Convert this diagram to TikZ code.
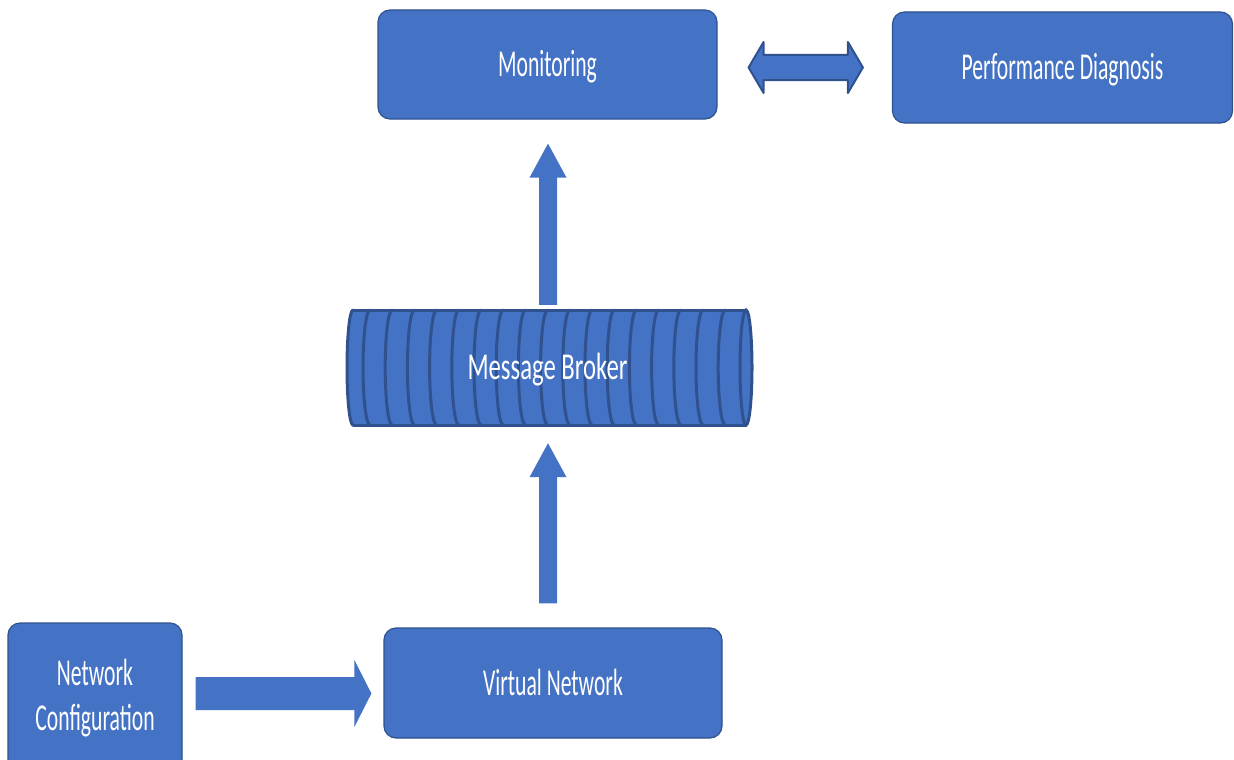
\documentclass[tikz,border=0pt]{standalone}
\usepackage{fontspec}
\newfontfamily\labelfont[FakeStretch=0.57]{Carlito}
\newfontfamily\pipefont[FakeStretch=0.65]{Carlito}
\usetikzlibrary{calc}
\definecolor{boxblue}{HTML}{4472C4}
\definecolor{edgeblue}{HTML}{2F528F}

% vertical block arrow: base centre #1, tip #2
\newcommand\vblockarrow[2]{%
  \fill[boxblue] let \p1=(#1), \p2=(#2) in
    (\x1-9pt,\y1) -- (\x1-9pt,\y2-34pt) -- (\x1-18.5pt,\y2-34pt) -- (\x1,\y2)
    -- (\x1+18.5pt,\y2-34pt) -- (\x1+9pt,\y2-34pt) -- (\x1+9pt,\y1) -- cycle;}
% horizontal block arrow: base centre #1, tip #2
\newcommand\hblockarrow[2]{%
  \fill[boxblue] let \p1=(#1), \p2=(#2) in
    (\x1,\y1+16.5pt) -- (\x2-17pt,\y1+16.5pt) -- (\x2-17pt,\y1+33.5pt) -- (\x2,\y1)
    -- (\x2-17pt,\y1-33.5pt) -- (\x2-17pt,\y1-16.5pt) -- (\x1,\y1-16.5pt) -- cycle;}
% two-headed block arrow between tips #1 and #2
\newcommand\dblockarrow[2]{%
  \filldraw[fill=boxblue, draw=edgeblue, line width=2pt, line join=round]
    let \p1=(#1), \p2=(#2) in
    (\x1,\y1) -- (\x1+15pt,\y1+25.5pt) -- (\x1+15pt,\y1+12.5pt) -- (\x2-15pt,\y1+12.5pt)
    -- (\x2-15pt,\y1+25.5pt) -- (\x2,\y1) -- (\x2-15pt,\y1-25.5pt) -- (\x2-15pt,\y1-12.5pt)
    -- (\x1+15pt,\y1-12.5pt) -- (\x1+15pt,\y1-25.5pt) -- cycle;}

\tikzset{
  labeltext/.style={text=white, font=\labelfont\fontsize{38}{45}\selectfont, inner sep=0pt},
  stage/.style={labeltext, draw=edgeblue, line width=1.2pt, fill=boxblue, rounded corners=12pt},
  oneline/.style={text height=24.5pt, text depth=0pt},
  pipe/.style={draw=edgeblue, line width=3pt, line cap=round},
}

\begin{document}
\begin{tikzpicture}[x=1pt, y=1pt]
\useasboundingbox (0,0) rectangle (1234,-760);
\clip (0,0) rectangle (1234,-760);

% boxes
\node[stage, oneline, minimum width=339pt, minimum height=109pt] (mon) at (547.5,-64.5) {Monitoring};
\node[stage, oneline, minimum width=340pt, minimum height=111pt] (perf) at (1062.5,-67.5) {Performance Diagnosis};
\node[stage, oneline, minimum width=338pt, minimum height=110pt] (vn) at (553,-683) {Virtual Network};
\node[stage, align=center, minimum width=174pt, minimum height=150pt] (nc) at (95,-698) {Network\\Configuration};

% message broker drawn as a striped horizontal cylinder
\fill[boxblue] (353,-310) -- (746,-310)
  arc[start angle=90, end angle=-90, x radius=6pt, y radius=57.5pt]
  -- (353,-425) arc[start angle=270, end angle=90, x radius=6pt, y radius=57.5pt] -- cycle;
\foreach \k in {0,...,16}
  \draw[pipe] ({370+22.2*\k},-425) arc[start angle=270, end angle=90, x radius=7pt, y radius=57.5pt];
\draw[pipe] (353,-310) -- (746,-310) (353,-425) -- (746,-425);
\draw[pipe] (353,-425) arc[start angle=270, end angle=90, x radius=6pt, y radius=57.5pt];
\draw[pipe] (746,-367.5) ellipse[x radius=6pt, y radius=57.5pt];
\node[labeltext, font=\pipefont\fontsize{38}{45}\selectfont, oneline,
      minimum width=405pt, minimum height=115pt] (broker) at (547.5,-367.5) {Message Broker};

% connectors
\coordinate (upAbase) at ($(broker.north)+(0.5,5)$);
\coordinate (upAtip)  at ($(mon.south)+(0.5,-24)$);
\vblockarrow{upAbase}{upAtip}

\coordinate (upBbase) at ($(vn.north)+(-5,24)$);
\coordinate (upBtip)  at ($(broker.south)+(0.5,-18)$);
\vblockarrow{upBbase}{upBtip}

\coordinate (rBbase) at ($(nc.east)+(13,4.5)$);
\coordinate (rBtip)  at ($(vn.west)+(-12,-10.5)$);
\hblockarrow{rBbase}{rBtip}

\coordinate (dLtip) at ($(mon.east)+(31,-3)$);
\coordinate (dRtip) at ($(perf.west)+(-29,0)$);
\dblockarrow{dLtip}{dRtip}
\end{tikzpicture}
\end{document}
